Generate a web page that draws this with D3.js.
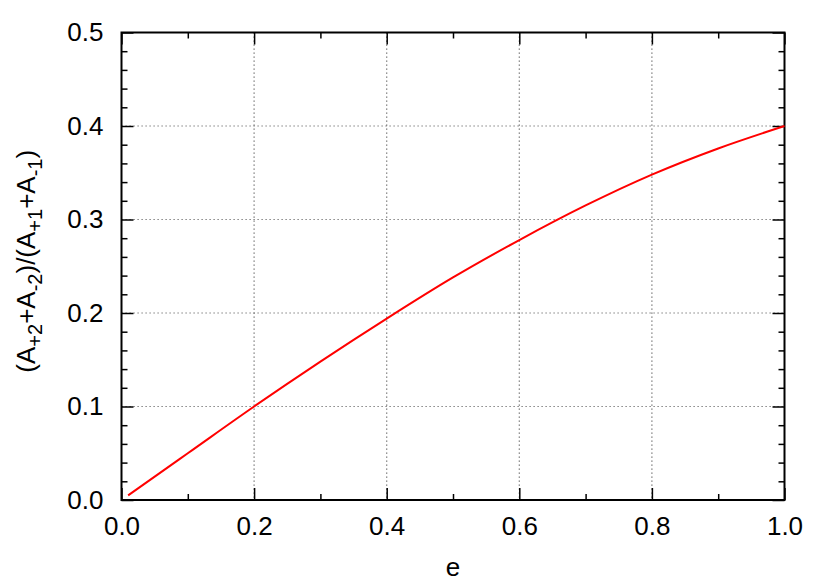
<!DOCTYPE html>
<html>
<head>
<meta charset="utf-8">
<script src="https://cdn.jsdelivr.net/npm/d3@7"></script>
<style>
  body { margin: 0; background: #fff; }
  text { font-family: "Liberation Sans", Arial, Helvetica, sans-serif; fill: #000; }
</style>
</head>
<body>
<div id="chart"></div>
<script>
// values
var eValues = [0.01, 0.1, 0.2, 0.3, 0.4, 0.5, 0.6, 0.7, 0.8, 0.9, 1.0];
var ratioValues = [0.005, 0.050, 0.100, 0.148, 0.194, 0.238, 0.278, 0.315, 0.348, 0.376, 0.400];
var xMajorTicks = [0, 0.2, 0.4, 0.6, 0.8, 1.0];
var xMinorTicks = [0.1, 0.3, 0.5, 0.7, 0.9];
var yMajorTicks = [0, 0.1, 0.2, 0.3, 0.4, 0.5];
var yMinorTicks = d3.range(0, 51, 2).filter(function(v) { return v % 10 != 0; }).map(function(v) { return v / 100; });

var width = 830, height = 581;
var margin = {top: 32.5, right: 45.5, bottom: 81, left: 121.5};
var w = width - margin.left - margin.right,
    h = height - margin.top - margin.bottom;

var svg = d3.select("#chart").append("svg")
    .attr("width", width)
    .attr("height", height);
var g = svg.append("g")
    .attr("transform", "translate(" + margin.left + "," + margin.top + ")");

var x = d3.scaleLinear().domain([0, 1]).range([0, w]);
var y = d3.scaleLinear().domain([0, 0.5]).range([h, 0]);

// grid
g.append("g").selectAll("line")
    .data(xMajorTicks.slice(1, -1))
    .enter().append("line")
    .attr("x1", d => x(d)).attr("x2", d => x(d))
    .attr("y1", 0).attr("y2", h)
    .attr("stroke", "#666").attr("stroke-width", 1.2).attr("stroke-dasharray", "1.2,2.8");
g.append("g").selectAll("line")
    .data(yMajorTicks.slice(1, -1))
    .enter().append("line")
    .attr("y1", d => y(d)).attr("y2", d => y(d))
    .attr("x1", 0).attr("x2", w)
    .attr("stroke", "#666").attr("stroke-width", 1.2).attr("stroke-dasharray", "1.2,2.8");

function styleAxis(sel) {
    sel.select(".domain").remove();
    sel.selectAll(".tick line").attr("stroke", "#000").attr("stroke-width", 1.5);
    sel.selectAll(".tick text").style("font-size", "26px");
}

var fmt = d3.format(".1f");

// bottom / left with labels
g.append("g").attr("transform", "translate(0," + h + ")")
    .call(d3.axisBottom(x).tickValues(xMajorTicks).tickFormat(fmt).tickSizeInner(-12).tickSizeOuter(0).tickPadding(17))
    .call(styleAxis);
g.append("g")
    .call(d3.axisLeft(y).tickValues(yMajorTicks).tickFormat(fmt).tickSizeInner(-12).tickSizeOuter(0).tickPadding(18))
    .call(styleAxis);
// mirrored top / right
g.append("g")
    .call(d3.axisTop(x).tickValues(xMajorTicks).tickFormat("").tickSizeInner(-12).tickSizeOuter(0))
    .call(styleAxis);
g.append("g").attr("transform", "translate(" + w + ",0)")
    .call(d3.axisRight(y).tickValues(yMajorTicks).tickFormat("").tickSizeInner(-12).tickSizeOuter(0))
    .call(styleAxis);
// minor ticks
g.append("g").attr("transform", "translate(0," + h + ")")
    .call(d3.axisBottom(x).tickValues(xMinorTicks).tickFormat("").tickSizeInner(-6).tickSizeOuter(0))
    .call(styleAxis);
g.append("g")
    .call(d3.axisTop(x).tickValues(xMinorTicks).tickFormat("").tickSizeInner(-6).tickSizeOuter(0))
    .call(styleAxis);
g.append("g")
    .call(d3.axisLeft(y).tickValues(yMinorTicks).tickFormat("").tickSizeInner(-6).tickSizeOuter(0))
    .call(styleAxis);
g.append("g").attr("transform", "translate(" + w + ",0)")
    .call(d3.axisRight(y).tickValues(yMinorTicks).tickFormat("").tickSizeInner(-6).tickSizeOuter(0))
    .call(styleAxis);

// frame
g.append("rect")
    .attr("width", w).attr("height", h)
    .attr("fill", "none").attr("stroke", "#000").attr("stroke-width", 2);

// curve
var line = d3.line()
    .x(function(d, i) { return x(eValues[i]); })
    .y(function(d) { return y(d); })
    .curve(d3.curveMonotoneX);
g.append("path")
    .datum(ratioValues)
    .attr("d", line)
    .attr("fill", "none")
    .attr("stroke", "#ff0000")
    .attr("stroke-width", 2);

// axis titles
svg.append("text")
    .attr("x", margin.left + w / 2)
    .attr("y", 576)
    .attr("text-anchor", "middle")
    .style("font-size", "26px")
    .text("e");

var ylab = svg.append("text")
    .attr("transform", "translate(35," + (margin.top + h / 2 - 5) + ") rotate(-90)")
    .attr("text-anchor", "middle")
    .style("font-size", "26px");
var parts = [["(A", ""], ["+2", "sub"], ["+A", ""], ["-2", "sub"], [")/(A", ""], ["+1", "sub"], ["+A", ""], ["-1", "sub"], [")", ""]];
var shift = 0;
parts.forEach(function(p) {
    var t = ylab.append("tspan").text(p[0]);
    if (p[1] == "sub") {
        t.style("font-size", "20px").attr("dy", 7 - shift);
        shift = 7;
    } else {
        t.attr("dy", -shift);
        shift = 0;
    }
});
</script>
</body>
</html>
